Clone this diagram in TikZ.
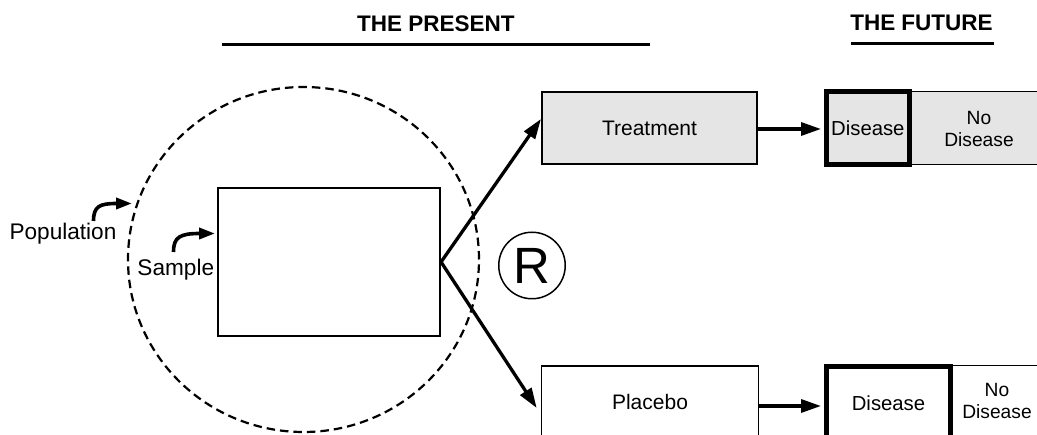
\documentclass[tikz,border=0pt]{standalone}
\usepackage{fontspec}
\setmainfont{Liberation Sans}
\usetikzlibrary{arrows.meta,shapes.geometric}
\definecolor{boxgray}{RGB}{229,229,229}
\tikzset{
 lbl/.style={font=\fontsize{22.6}{25}\selectfont},
 hdr/.style={font=\fontsize{22.5}{26}\selectfont\bfseries},
 thinbox/.style={draw, line width=1.6pt, rectangle, inner sep=0pt, font=\fontsize{21}{24}\selectfont},
 thickbox/.style={draw, line width=5pt, rectangle, inner sep=0pt, font=\fontsize{20.3}{22}\selectfont},
 outcome/.style={align=center, font=\fontsize{19.2}{22}\selectfont},
 bigarrow/.style={line width=3.3pt, -{Triangle[length=20pt,width=13pt]}},
 curlarrow/.style={line width=3.6pt, -{Triangle[length=16pt,width=11pt]}},
 hrule/.style={line width=2.5pt},
 popring/.style={draw, ellipse, dash pattern=on 8.5pt off 5pt, line width=2.2pt, inner sep=0pt},
}
\begin{document}
\begin{tikzpicture}[x=1pt,y=-1pt]
\useasboundingbox (0,0) rectangle (1037,435);
\clip (0,0) rectangle (1037,435);
\fill[white] (0,0) rectangle (1037,435);

% headers
\node[hdr] (present) at (436,23.5) {THE PRESENT};
\node[hdr] (future) at (921.5,23) {THE FUTURE};
\coordinate (pl) at (222,44.5);
\coordinate (pr) at (650,44.5);
\coordinate (fl) at (851,43.5);
\coordinate (fr) at (994,43.5);
\draw[hrule] (pl) -- (pr);
\draw[hrule] (fl) -- (fr);

% population and sample
\node[popring, minimum width=351pt, minimum height=345pt] (pop) at (303.5,259.5) {};
\node[thinbox, minimum width=222.5pt, minimum height=148.5pt] (sample) at (329,262) {};

\node[lbl, anchor=base] (poplbl) at (63,240) {Population};
\node[lbl, anchor=base] (samplbl) at (175.8,276) {Sample};

\coordinate (popfrom) at (93.5,221);
\coordinate (popto) at (132,203.5);
\draw[curlarrow] (popfrom) .. controls (93.5,206) and (100,203.5) .. (popto);
\coordinate (sampfrom) at (173.5,252);
\coordinate (sampto) at (215,233.5);
\draw[curlarrow] (sampfrom) .. controls (173.5,237) and (180,233.5) .. (sampto);

% randomisation
\node[draw, circle, line width=1.5pt, minimum size=66.5pt, inner sep=0pt,
      font=\fontsize{51}{51}\selectfont] (rand) at (532,265.5) {R};

% arms
\node[thinbox, fill=boxgray, minimum width=215.5pt, minimum height=72.5pt] (treat) at (649.5,128) {Treatment};
\node[thinbox, minimum width=217pt, minimum height=72.5pt] (placebo) at (650,402) {Placebo};

\draw[bigarrow] (sample.east) -- ([yshift=9pt]treat.west);
\draw[bigarrow] (sample.east) -- ([xshift=-4pt,yshift=-6pt]placebo.west);

% outcomes, treatment
\node[thinbox, fill=boxgray, minimum width=140pt, minimum height=73pt] (nodis1) at (979,128) {};
\node[outcome] (nodis1t) at (979,128.5) {No\\Disease};
\node[thickbox, fill=boxgray, minimum width=82.7pt, minimum height=73pt] (dis1) at (867.85,128) {Disease};

% outcomes, placebo
\node[thinbox, minimum width=92pt, minimum height=73pt] (nodis2) at (997,402) {};
\node[outcome] (nodis2t) at (997,401) {No\\Disease};
\node[thickbox, minimum width=124pt, minimum height=73pt] (dis2) at (888.5,403) {Disease};

\draw[bigarrow, shorten >=3pt] ([yshift=-1pt]treat.east) -- ([yshift=-1pt]dis1.west);
\draw[bigarrow, shorten >=3pt] ([yshift=-4pt]placebo.east) -- ([yshift=-3pt]dis2.west);
\end{tikzpicture}
\end{document}
